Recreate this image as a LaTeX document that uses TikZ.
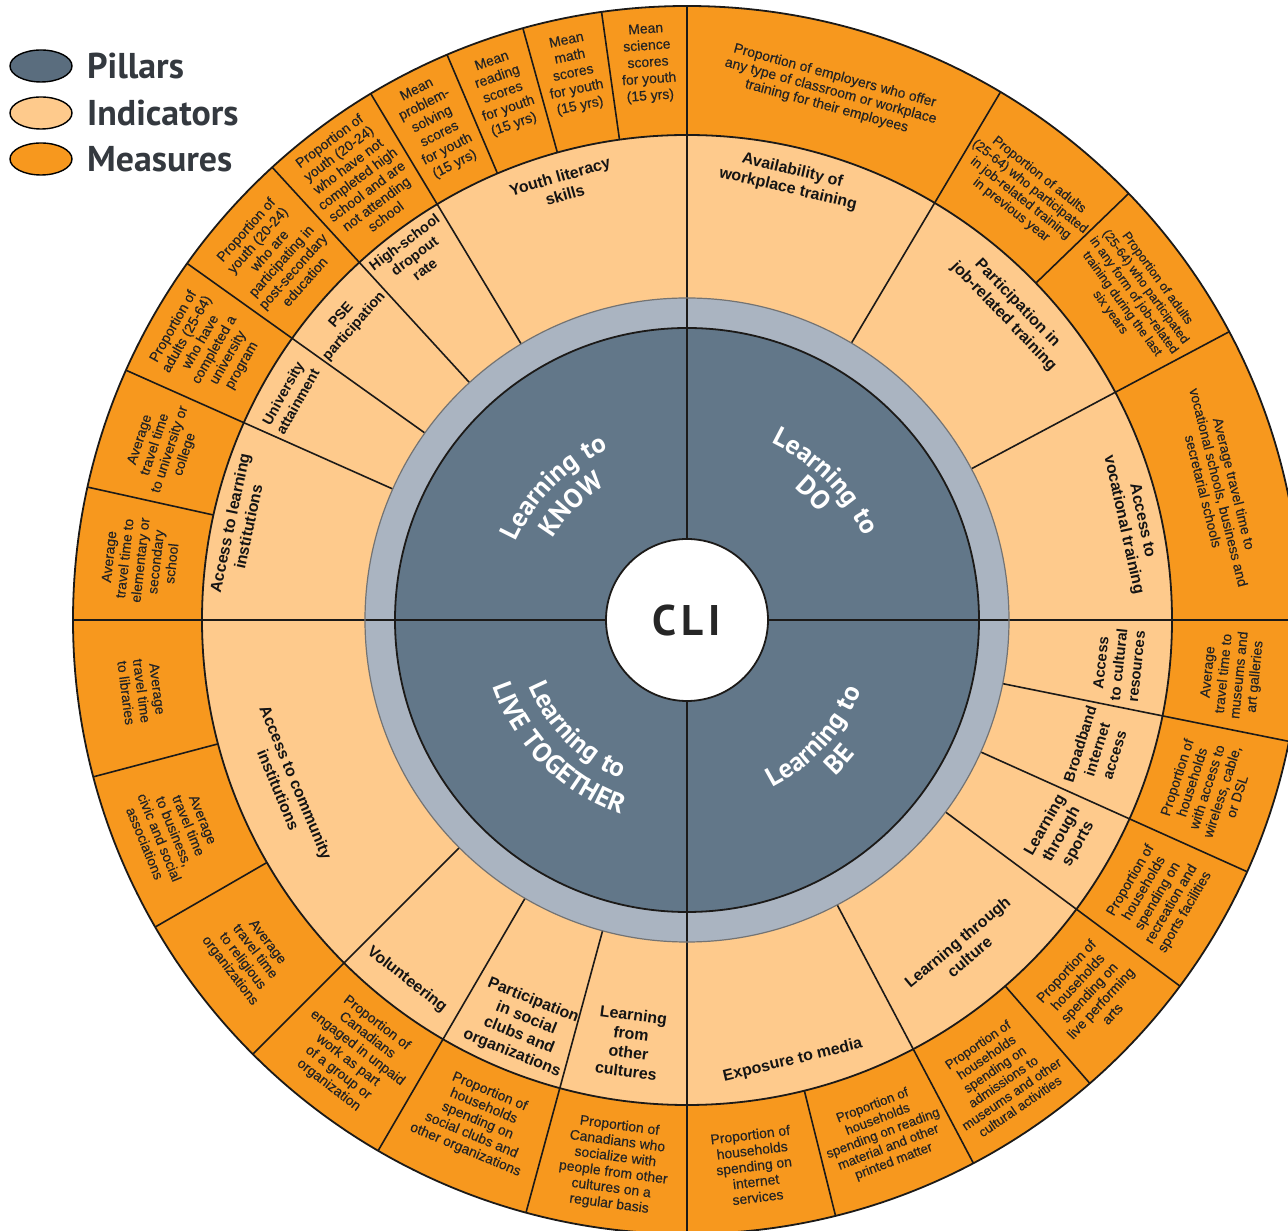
\documentclass[tikz,border=0pt]{standalone}
\usepackage{fontspec}
\usetikzlibrary{decorations.text}
\newfontfamily\msrfam{Liberation Sans}[FakeBold=0.3]
\newfontfamily\indfam{Liberation Sans}
\newfontfamily\ptsans{PT Sans}
\newfontfamily\pillarfam{PT Sans}[LetterSpace=8]
\definecolor{measureC}{HTML}{F7981E}
\definecolor{indC}{HTML}{FECA8C}
\definecolor{pillarC}{HTML}{627789}
\definecolor{ringC}{HTML}{AAB4C1}
\definecolor{lineC}{HTML}{1C1A18}
\definecolor{legendtxt}{HTML}{34393F}
\newcommand\pillarfont{\pillarfam\bfseries\fontsize{27}{27}\selectfont}
\begin{document}
\begin{tikzpicture}[x=1bp,y=1bp,
  msr/.style={font=\msrfam\fontsize{14}{15.8}\selectfont, align=center, text=black!86, inner sep=0pt},
  msrsm/.style={msr, font=\msrfam\fontsize{13.3}{15}\selectfont},
  msrxs/.style={msr, font=\msrfam\fontsize{12.8}{14.6}\selectfont},
  msrmean/.style={msr, font=\msrfam\fontsize{14}{16.8}\selectfont},
  ind/.style={font=\indfam\bfseries\fontsize{16}{19}\selectfont, align=center, text=black!92, inner sep=0pt},
  indmid/.style={ind, font=\indfam\bfseries\fontsize{15}{18}\selectfont},
  indsm/.style={ind, font=\indfam\bfseries\fontsize{14.5}{17}\selectfont},
  rad/.style={draw=lineC, line width=1.6bp},
  ring/.style={draw=lineC, line width=1.8bp},
  pillartext/.style={decorate, decoration={text along path, text align=center, text color=white, text={|\pillarfont|#1}}},
  legendell/.style={draw=black, line width=1.4bp},
  legendtext/.style={anchor=west, font=\ptsans\bfseries\fontsize{36}{36}\selectfont, text=legendtxt, inner sep=0pt}
]
\useasboundingbox (0,0) rectangle (1288,1231);
\clip (0,0) rectangle (1288,1231);
\fill[white] (0,0) rectangle (1288,1231);
\begin{scope}[shift={(687,611)}]
  % rings
  \fill[measureC] (0,0) circle[radius=614];
  \fill[indC] (0,0) circle[radius=485];
  \fill[ringC] (0,0) circle[radius=322];
  \fill[pillarC] (0,0) circle[radius=292];
  % radial lines
  \foreach \a in {121,132.5,144.5,156,59.3,28,-11.4,-24.2,-36.6,-62.2,-105.2,-120.2,-135}
    \draw[rad] (\a:322) -- (\a:614);
  \foreach \a in {98,105.5,113,167.5,44,-49,-76,-150,-165.2}
    \draw[rad] (\a:485) -- (\a:614);
  \foreach \a in {0,90,180,270}
    \draw[rad] (\a:81) -- (\a:614);
  % circle outlines
  \draw[ring] (0,0) circle[radius=614];
  \draw[ring] (0,0) circle[radius=485];
  \draw[draw=black!55, line width=1.2bp] (0,0) circle[radius=322];
  \draw[ring] (0,0) circle[radius=292];
  \fill[white] (0,0) circle[radius=81];
  \draw[ring] (0,0) circle[radius=81];
  \node[font=\ptsans\bfseries\fontsize{43}{43}\selectfont, text=black!85] (cli) at (0,-1) {C\kern5bp L\kern5bp I};
  % pillar labels
  \path[pillartext={Learning to}] (175:188) arc[start angle=175, end angle=95, radius=188];
  \path[pillartext={KNOW}] (175:157) arc[start angle=175, end angle=95, radius=157];
  \path[pillartext={Learning to}] (85:196) arc[start angle=85, end angle=5, radius=196];
  \path[pillartext={DO}] (85:170) arc[start angle=85, end angle=5, radius=170];
  \path[pillartext={Learning to}] (-82.5:188) arc[start angle=-82.5, end angle=-2.5, radius=188];
  \path[pillartext={BE}] (-82.5:215) arc[start angle=-82.5, end angle=-2.5, radius=215];
  \path[pillartext={Learning to}] (-175:172) arc[start angle=-175, end angle=-95, radius=172];
  \path[pillartext={LIVE TOGETHER}] (-175:205) arc[start angle=-175, end angle=-95, radius=205];
  % indicators: learning to know
  \node[ind, rotate=16] (i1) at (106:452) {Youth literacy\\skills};
  \node[indsm, rotate=36.8] (i2) at (126.8:455) {High-school\\dropout\\rate};
  \node[indsm, rotate=48.6] (i3) at (138.6:452) {PSE\\participation};
  \node[indsm, rotate=60.7] (i4) at (150.7:455) {University\\attainment};
  \node[ind, rotate=78] (i5) at (168:458) {Access to learning\\institutions};
  % indicators: learning to do
  \node[ind, rotate=-13.2] (i6) at (76.8:452) {Availability of\\workplace training};
  \node[ind, rotate=-46.2] (i7) at (43.8:448) {Participation in\\job-related training};
  \node[ind, rotate=-77.7] (i8) at (12.3:456) {Access to\\vocational training};
  % indicators: learning to be
  \node[indmid, rotate=84] (i9) at (-5.9:434) {Access\\to cultural\\resources};
  \node[indmid, rotate=72.5] (i10) at (-17.5:430) {Broadband\\internet\\access};
  \node[ind, rotate=60.5] (i11) at (-29.8:432) {Learning\\through\\sports};
  \node[ind, rotate=40] (i12) at (-50:430) {Learning through\\culture};
  \node[ind, rotate=13.5] (i13) at (-76.5:453) {Exposure to media};
  % indicators: learning to live together
  \node[ind, rotate=-7.7] (i14) at (-97.7:427) {Learning\\from\\other\\cultures};
  \node[ind, rotate=-22] (i15) at (-112:439) {Participation\\in social\\clubs and\\organizations};
  \node[ind, rotate=-37.9] (i16) at (-127.9:456) {Volunteering};
  \node[ind, rotate=-67.4] (i17) at (-157.4:433) {Access to community\\institutions};
  % measures: know
  \node[msrmean, rotate=4] (m1) at (94:558) {Mean\\science\\scores\\for youth\\(15 yrs)};
  \node[msrmean, rotate=11.75] (m2) at (101.75:558) {Mean\\math\\scores\\for youth\\(15 yrs)};
  \node[msrmean, rotate=19.25] (m3) at (109.25:558) {Mean\\reading\\scores\\for youth\\(15 yrs)};
  \node[msrmean, rotate=27] (m4) at (117:553) {Mean\\problem-\\solving\\scores\\for youth\\(15 yrs)};
  \node[msr, rotate=36.75] (m5) at (126.75:551) {Proportion of\\youth (20-24)\\who have not\\completed high\\school and are\\not attending\\school};
  \node[msr, rotate=48.5] (m6) at (138.5:550) {Proportion of\\youth (20-24)\\who are\\participating in\\post-secondary\\education};
  \node[msr, rotate=60.25] (m7) at (150.25:552) {Proportion of\\adults (25-64)\\who have\\completed a\\university\\program};
  \node[msr, rotate=71.75] (m8) at (161.75:552) {Average\\travel time\\to university or\\college};
  \node[msr, rotate=83.75] (m9) at (173.75:550) {Average\\travel time to\\elementary or\\secondary\\school};
  % measures: do
  \node[msr, rotate=-15.2] (m10) at (74.8:548) {Proportion of employers who offer\\any type of classroom or workplace\\training for their employees};
  \node[msrsm, rotate=-38.35] (m11) at (51.65:545) {Proportion of adults\\(25-64) who participated\\in job-related training\\in previous year};
  \node[msrxs, rotate=-54] (m12) at (36:552) {Proportion of adults\\(25-64) who participated\\in any form of job-related\\training during the last\\six years};
  \node[msr, rotate=-76] (m13) at (14:548) {Average travel time to\\vocational schools, business and\\secretarial schools};
  % measures: be
  \node[msr, rotate=84.3] (m14) at (-5.7:548) {Average\\travel time to\\museums and\\art galleries};
  \node[msr, rotate=72.2] (m15) at (-17.8:546) {Proportion of\\households\\with access to\\wireless, cable,\\or DSL};
  \node[msr, rotate=59.6] (m16) at (-30.4:546) {Proportion of\\households\\spending on\\recreation and\\sports facilities};
  \node[msr, rotate=47.2] (m17) at (-42.8:548) {Proportion of\\households\\spending on\\live performing\\arts};
  \node[msrsm, rotate=34.4] (m18) at (-55.6:552) {Proportion of\\households\\spending on\\admissions to\\museums and other\\cultural activities};
  \node[msrsm, rotate=20.9] (m19) at (-69.1:550) {Proportion of\\households\\spending on reading\\material and other\\printed matter};
  \node[msr, rotate=7] (m20) at (-83:550) {Proportion of\\households\\spending on\\internet\\services};
  % measures: live together
  \node[msr, rotate=-7.6] (m21) at (-97.6:550) {Proportion of\\Canadians who\\socialize with\\people from other\\cultures on a\\regular basis};
  \node[msr, rotate=-22.7] (m22) at (-112.7:543) {Proportion of\\households\\spending on\\social clubs and\\other organizations};
  \node[msr, rotate=-37.6] (m23) at (-127.6:548) {Proportion of\\Canadians\\engaged in unpaid\\work as part\\of a group or\\organization};
  \node[msr, rotate=-52.5] (m24) at (-142.5:553) {Average\\travel time\\to religious\\organizations};
  \node[msr, rotate=-67.6] (m25) at (-157.6:555) {Average\\travel time\\to business,\\civic and social\\associations};
  \node[msr, rotate=-82.6] (m26) at (-172.6:550) {Average\\travel time\\to libraries};
\end{scope}
% legend
\draw[legendell, fill=pillarC!92!black] (41,1165) ellipse[x radius=31, y radius=16];
\draw[legendell, fill=indC] (41,1118) ellipse[x radius=31, y radius=16];
\draw[legendell, fill=measureC] (41,1072) ellipse[x radius=31, y radius=16];
\node[legendtext] (lp) at (87,1165) {Pillars};
\node[legendtext] (li) at (87,1118) {Indicators};
\node[legendtext] (lm) at (87,1072) {Measures};
\end{tikzpicture}
\end{document}
